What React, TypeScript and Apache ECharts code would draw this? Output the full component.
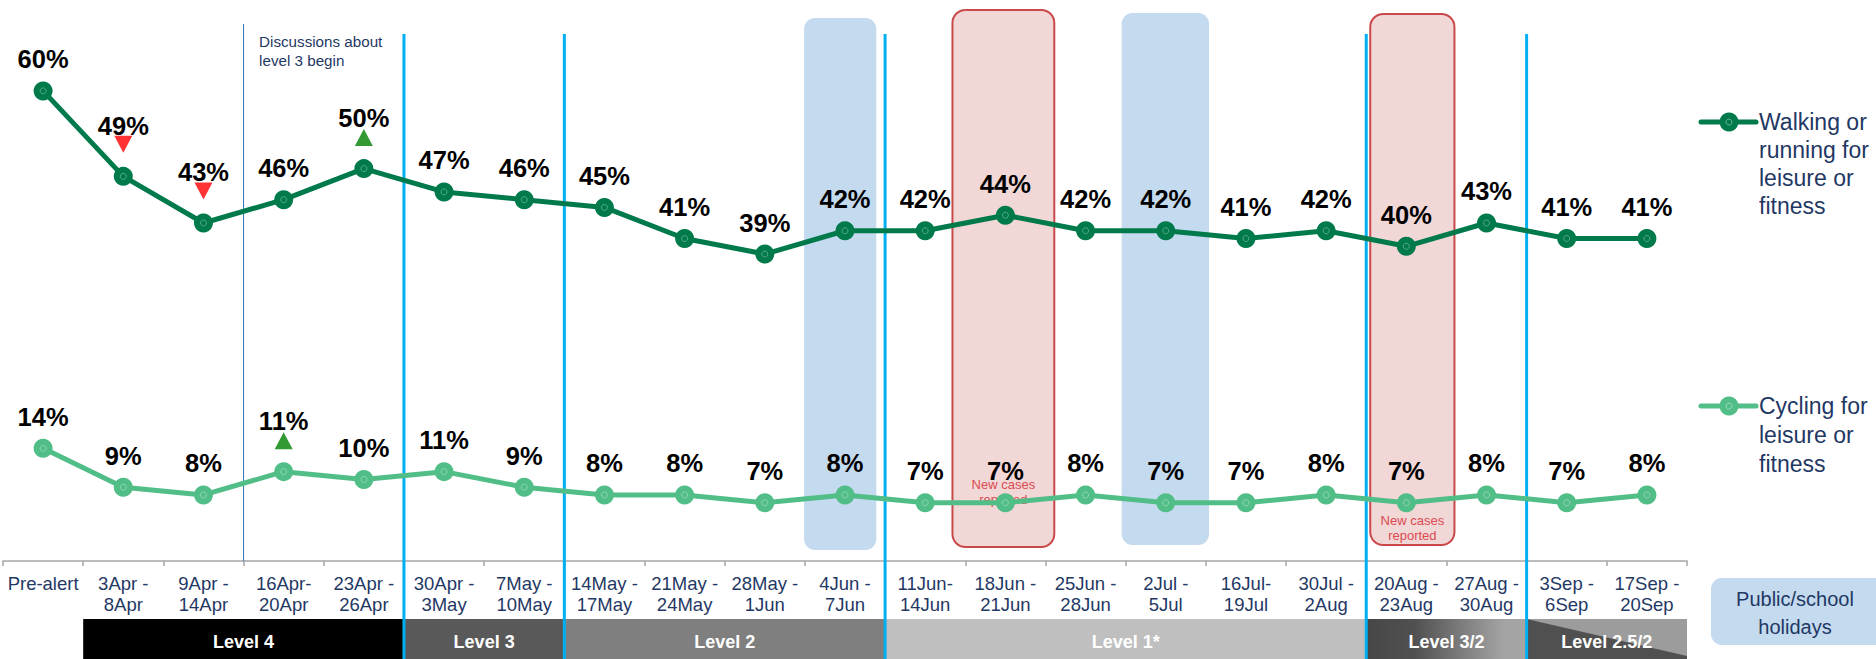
import React, { useEffect, useRef } from 'react';
import * as echarts from 'echarts';

// Survey waves (x categories)
const weeks = [
  'Pre-alert', '3Apr -\n8Apr', '9Apr -\n14Apr', '16Apr-\n20Apr', '23Apr -\n26Apr',
  '30Apr -\n3May', '7May -\n10May', '14May -\n17May', '21May -\n24May', '28May -\n1Jun',
  '4Jun -\n7Jun', '11Jun-\n14Jun', '18Jun -\n21Jun', '25Jun -\n28Jun', '2Jul -\n5Jul',
  '16Jul-\n19Jul', '30Jul -\n2Aug', '20Aug -\n23Aug', '27Aug -\n30Aug', '3Sep -\n6Sep',
  '17Sep -\n20Sep',
];

// Share of people doing each activity (%)
const walking = [60, 49, 43, 46, 50, 47, 46, 45, 41, 39, 42, 42, 44, 42, 42, 41, 42, 40, 43, 41, 41];
const cycling = [14, 9, 8, 11, 10, 11, 9, 8, 8, 7, 8, 7, 7, 8, 7, 7, 8, 7, 8, 7, 8];

// Significant change on the previous wave: 1 = up, -1 = down, 0 = none
const walkingChange = [0, -1, -1, 0, 1, 0, 0, 0, 0, 0, 0, 0, 0, 0, 0, 0, 0, 0, 0, 0, 0];
const cyclingChange = [0, 0, 0, 1, 0, 0, 0, 0, 0, 0, 0, 0, 0, 0, 0, 0, 0, 0, 0, 0, 0];

// Annotated waves
const holidayWeeks = [10, 14];
const newCasesWeeks = [12, 17];

// Alert levels: first wave index and end (exclusive)
const levelNames = ['Level 4', 'Level 3', 'Level 2', 'Level 1*', 'Level 3/2', 'Level 2.5/2'];
const levelFrom = [1, 5, 7, 11, 17, 19];
const levelTo = [5, 7, 11, 17, 19, 21];
const levelChangeAt = [5, 7, 11, 17, 19];
const discussionAt = 3;

const WALK_NAME = 'Walking or running for leisure or fitness';
const CYCLE_NAME = 'Cycling for leisure or fitness';

// ---- styling ----
const FONT = '"Liberation Sans", Arial, Helvetica, sans-serif';
const NAVY = '#1F3864';
const WALK_COLOR = '#007A4B';
const CYCLE_COLOR = '#52BE87';
const HOLIDAY_FILL = '#C4DAEF';
const CASES_FILL = '#F2D7D7';
const CASES_STROKE = '#C9494B';
const LEVEL_LINE = '#00B0F0';

// box extents: [left, right] in band widths from the category centre, [top, bottom] in px
const holidayBoxShape = [
  { l: -0.51, r: 0.39, top: 18, bottom: 550 },
  { l: -0.55, r: 0.54, top: 13, bottom: 545 },
];
const casesBoxShape = [
  { l: -0.66, r: 0.61, top: 10, bottom: 547, textY: 492 },
  { l: -0.45, r: 0.6, top: 14, bottom: 545, textY: 528 },
];
const levelFills = ['#000000', '#595959', '#7F7F7F', '#BFBFBF', 'fade', 'split'];
const LEVEL_TOP = 619;
const LEVEL_BOTTOM = 659;

function lineData(values: number[], change: number[]) {
  return values.map((v, i) => (change[i] ? { value: v, label: { distance: 28 } } : v));
}

function flagData(dir: number) {
  const out: number[][] = [];
  walking.forEach((v, i) => { if (walkingChange[i] === dir) out.push([i, v]); });
  cycling.forEach((v, i) => { if (cyclingChange[i] === dir) out.push([i, v]); });
  return out;
}

function legendEntry(y: number, color: string, text: string, lh: number) {
  return {
    type: 'group',
    children: [
      { type: 'line', shape: { x1: 1701, y1: y, x2: 1756, y2: y }, style: { stroke: color, lineWidth: 5, lineCap: 'round' } },
      { type: 'circle', shape: { cx: 1729, cy: y, r: 9.5 }, style: { fill: color } },
      { type: 'circle', shape: { cx: 1729, cy: y, r: 3 }, style: { fill: 'none', stroke: 'rgba(255,255,255,0.4)', lineWidth: 1 } },
      {
        type: 'text', x: 1759, y: y - lh / 2,
        style: { text, fill: NAVY, fontSize: 23, fontFamily: FONT, lineHeight: lh, verticalAlign: 'top', align: 'left' },
      },
    ],
  };
}

export default function App() {
  const ref = useRef<HTMLDivElement>(null);

  useEffect(() => {
    if (!ref.current) return;
    const chart = echarts.init(ref.current, undefined, { renderer: 'svg' });

    const labelStyle = {
      show: true,
      position: 'top',
      distance: 9,
      formatter: (p: any) => p.value + '%',
      fontSize: 25.5,
      fontWeight: 'bold',
      color: '#000',
      fontFamily: FONT,
    };

    const option: any = {
      animation: false,
      backgroundColor: '#ffffff',
      grid: { left: 3, right: 189, top: 13.2, bottom: 98, containLabel: false },
      xAxis: {
        type: 'category',
        data: weeks,
        boundaryGap: true,
        axisLine: { onZero: false, lineStyle: { color: '#A6A6A6', width: 1.5 } },
        axisTick: { show: true, length: 5, lineStyle: { color: '#A6A6A6', width: 1.5 } },
        axisLabel: { interval: 0, margin: 12, color: NAVY, fontSize: 18.5, lineHeight: 21, fontFamily: FONT },
        splitLine: { show: false },
      },
      yAxis: { type: 'value', min: -0.5, max: 70, show: false },
      graphic: [
        legendEntry(122, WALK_COLOR, 'Walking or\nrunning for\nleisure or\nfitness', 28),
        legendEntry(406, CYCLE_COLOR, 'Cycling for\nleisure or\nfitness', 29),
        {
          type: 'group',
          children: [
            { type: 'rect', shape: { x: 1711, y: 578, width: 185, height: 67, r: 11 }, style: { fill: HOLIDAY_FILL } },
            {
              type: 'text', x: 1795, y: 613,
              style: { text: 'Public/school\nholidays', fill: NAVY, fontSize: 20, fontFamily: FONT, lineHeight: 28, align: 'center', verticalAlign: 'middle' },
            },
          ],
        },
      ],
      series: [
        {
          type: 'custom',
          name: 'Public/school holidays',
          z: 1,
          silent: true,
          clip: false,
          data: holidayWeeks.map((w) => [w, 0]),
          encode: { x: 0, y: 1 },
          renderItem: (params: any, api: any) => {
            const s = holidayBoxShape[params.dataIndex];
            const c = api.coord([api.value(0), 0]);
            const bw = api.size([1, 0])[0];
            return {
              type: 'rect',
              shape: { x: c[0] + s.l * bw, y: s.top, width: (s.r - s.l) * bw, height: s.bottom - s.top, r: 11 },
              style: { fill: HOLIDAY_FILL },
            };
          },
        },
        {
          type: 'custom',
          name: 'New cases reported',
          z: 1,
          silent: true,
          clip: false,
          data: newCasesWeeks.map((w) => [w, 0]),
          encode: { x: 0, y: 1 },
          renderItem: (params: any, api: any) => {
            const s = casesBoxShape[params.dataIndex];
            const c = api.coord([api.value(0), 0]);
            const bw = api.size([1, 0])[0];
            const x0 = c[0] + s.l * bw;
            const w = (s.r - s.l) * bw;
            return {
              type: 'group',
              children: [
                {
                  type: 'rect',
                  shape: { x: x0, y: s.top, width: w, height: s.bottom - s.top, r: 13 },
                  style: { fill: CASES_FILL, stroke: CASES_STROKE, lineWidth: 2 },
                },
                {
                  type: 'text',
                  style: {
                    text: 'New cases\nreported', x: x0 + w / 2, y: s.textY,
                    fill: '#DA4A50', fontSize: 13, fontFamily: FONT, lineHeight: 15.5,
                    align: 'center', verticalAlign: 'middle',
                  },
                },
              ],
            };
          },
        },
        {
          type: 'custom',
          name: 'Alert level',
          z: 1,
          silent: true,
          clip: false,
          data: levelNames.map((_, i) => [levelFrom[i], levelTo[i], i]),
          encode: { x: 0, y: 2 },
          renderItem: (params: any, api: any) => {
            const i = params.dataIndex;
            const bw = api.size([1, 0])[0];
            const x0 = api.coord([api.value(0), 0])[0] - bw / 2;
            const x1 = api.coord([api.value(1) - 1, 0])[0] + bw / 2;
            const h = LEVEL_BOTTOM - LEVEL_TOP;
            const fill = levelFills[i];
            const children: any[] = [];
            if (fill === 'fade') {
              children.push({
                type: 'rect',
                shape: { x: x0, y: LEVEL_TOP, width: x1 - x0, height: h },
                style: {
                  fill: {
                    type: 'linear', x: 0, y: 0, x2: 1, y2: 0,
                    colorStops: [
                      { offset: 0, color: '#474747' },
                      { offset: 0.3, color: '#505050' },
                      { offset: 0.85, color: '#A3A3A3' },
                      { offset: 1, color: '#A6A6A6' },
                    ],
                  },
                },
              });
            } else if (fill === 'split') {
              children.push({ type: 'rect', shape: { x: x0, y: LEVEL_TOP, width: x1 - x0, height: h }, style: { fill: '#9C9C9C' } });
              children.push({
                type: 'polygon',
                shape: { points: [[x0, LEVEL_TOP], [x1, LEVEL_BOTTOM - 3], [x1, LEVEL_BOTTOM], [x0, LEVEL_BOTTOM]] },
                style: { fill: '#505050' },
              });
            } else {
              children.push({ type: 'rect', shape: { x: x0, y: LEVEL_TOP, width: x1 - x0, height: h }, style: { fill } });
            }
            children.push({
              type: 'text',
              style: {
                text: levelNames[i], x: (x0 + x1) / 2, y: 641.5, fill: '#FFFFFF',
                fontSize: 18, fontWeight: 'bold', fontFamily: FONT, align: 'center', verticalAlign: 'middle',
              },
            });
            return { type: 'group', children };
          },
        },
        {
          type: 'custom',
          name: 'Level change',
          z: 2,
          silent: true,
          clip: false,
          data: levelChangeAt.map((b) => [b, 0]),
          encode: { x: 0, y: 1 },
          renderItem: (params: any, api: any) => {
            const bw = api.size([1, 0])[0];
            const x = api.coord([api.value(0), 0])[0] - bw / 2;
            return { type: 'line', shape: { x1: x, y1: 34, x2: x, y2: 659 }, style: { stroke: LEVEL_LINE, lineWidth: 3 } };
          },
        },
        {
          type: 'custom',
          name: 'Discussions',
          z: 2,
          silent: true,
          clip: false,
          data: [[discussionAt, 0]],
          encode: { x: 0, y: 1 },
          renderItem: (params: any, api: any) => {
            const bw = api.size([1, 0])[0];
            const x = api.coord([api.value(0), 0])[0] - bw / 2;
            return {
              type: 'group',
              children: [
                { type: 'line', shape: { x1: x, y1: 24, x2: x, y2: 561 }, style: { stroke: '#2E75B6', lineWidth: 1 } },
                {
                  type: 'text',
                  style: {
                    text: 'Discussions about\nlevel 3 begin', x: x + 15.5, y: 31.5,
                    fill: NAVY, fontSize: 15.2, fontFamily: FONT, lineHeight: 19,
                    align: 'left', verticalAlign: 'top',
                  },
                },
              ],
            };
          },
        },
        {
          type: 'line',
          name: WALK_NAME,
          z: 3,
          data: lineData(walking, walkingChange),
          symbol: 'circle',
          symbolSize: 19,
          lineStyle: { color: WALK_COLOR, width: 5 },
          itemStyle: { color: WALK_COLOR },
          label: labelStyle,
        },
        {
          type: 'line',
          name: CYCLE_NAME,
          z: 3,
          data: lineData(cycling, cyclingChange),
          symbol: 'circle',
          symbolSize: 19,
          lineStyle: { color: CYCLE_COLOR, width: 5 },
          itemStyle: { color: CYCLE_COLOR },
          label: labelStyle,
        },
        {
          type: 'scatter',
          name: 'Marker ring',
          z: 4,
          silent: true,
          symbol: 'circle',
          symbolSize: 6,
          itemStyle: { color: 'rgba(0,0,0,0)', borderColor: 'rgba(255,255,255,0.4)', borderWidth: 1 },
          data: [...walking.map((v, i) => [i, v]), ...cycling.map((v, i) => [i, v])],
        },
        {
          type: 'scatter',
          name: 'Significant increase',
          z: 4,
          silent: true,
          symbol: 'triangle',
          symbolSize: [18, 17],
          symbolOffset: [0, -31],
          itemStyle: { color: '#008000' },
          data: flagData(1),
        },
        {
          type: 'scatter',
          name: 'Significant decrease',
          z: 4,
          silent: true,
          symbol: 'triangle',
          symbolRotate: 180,
          symbolSize: [18, 17],
          symbolOffset: [0, -32],
          itemStyle: { color: '#FF0000' },
          data: flagData(-1),
        },
      ],
    };

    chart.setOption(option);
    return () => chart.dispose();
  }, []);

  return <div ref={ref} style={{ position: 'absolute', left: 0, top: 0, width: 1876, height: 659 }} />;
}
